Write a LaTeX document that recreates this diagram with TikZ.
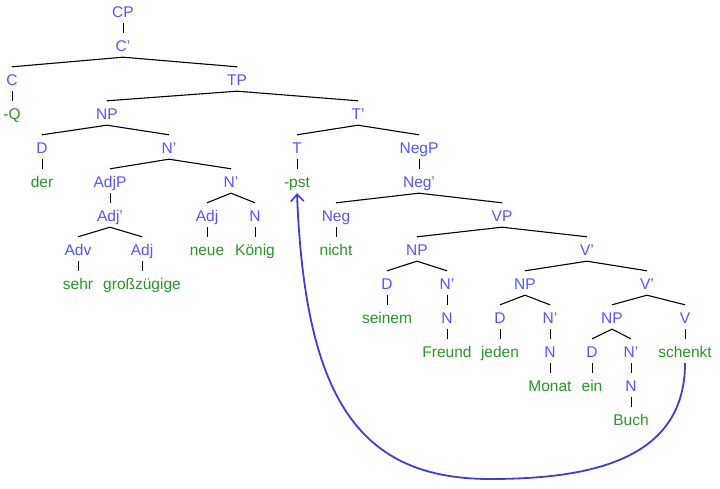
\documentclass[tikz,border=0pt]{standalone}
\usepackage{fontspec}
\setmainfont{Liberation Sans}
\usetikzlibrary{arrows.meta}
\definecolor{lblue}{RGB}{85,85,255}
\definecolor{lgreen}{RGB}{40,150,40}
\definecolor{arrblue}{RGB}{60,64,210}
\begin{document}
\begin{tikzpicture}[x=1pt,y=-1pt,
  cat/.style={inner sep=0pt, minimum height=24pt, text height=13pt, text depth=0pt, text=lblue, font=\fontsize{15.5}{18}\selectfont},
  word/.style={cat, text=lgreen},
  br/.style={draw=black, line width=1.1pt},
  un/.style={draw=black, line width=0.8pt},
  mv/.style={draw=arrblue, line width=1.8pt, -{Straight Barb[length=7pt,width=13pt,line width=1.6pt]}}]
\useasboundingbox (0,0) rectangle (720,489);
% level 0
\node[cat] (cp) at (123,11) {CP};
\node[cat] (cb) at (123,45) {C'};
\node[cat] (c) at (12,79) {C};
\node[cat] (tp) at (237,79) {TP};
\node[word] (q) at (12,113) {-Q};
\node[cat] (np1) at (107,113) {NP};
\node[cat] (tb) at (358,113) {T'};
\node[cat] (d1) at (42,147) {D};
\node[cat] (nb1) at (169,147) {N'};
\node[cat] (t) at (297,147) {T};
\node[cat] (negp) at (419,147) {NegP};
\node[word] (der) at (42,181) {der};
\node[cat] (adjp) at (110,181) {AdjP};
\node[cat] (nb2) at (231,181) {N'};
\node[word] (pst) at (297,181) {-pst};
\node[cat] (negb) at (419,181) {Neg'};
\node[cat] (adjb) at (110,215) {Adj'};
\node[cat] (adj1) at (207,215) {Adj};
\node[cat] (n1) at (255,215) {N};
\node[cat] (neg) at (336,215) {Neg};
\node[cat] (vp) at (502,215) {VP};
\node[cat] (adv) at (78,249) {Adv};
\node[cat] (adj2) at (142,249) {Adj};
\node[word] (neue) at (207,249) {neue};
\node[word] (konig) at (255,249) {König};
\node[word] (nicht) at (336,249) {nicht};
\node[cat] (np2) at (417,249) {NP};
\node[cat] (vb1) at (587,249) {V'};
\node[word] (sehr) at (78,283) {sehr};
\node[word] (gross) at (142,283) {großzügige};
\node[cat] (d2) at (387,283) {D};
\node[cat] (nb3) at (447,283) {N'};
\node[cat] (np3) at (525,283) {NP};
\node[cat] (vb2) at (647,283) {V'};
\node[word] (seinem) at (387,317) {seinem};
\node[cat] (n2) at (447,317) {N};
\node[cat] (d3) at (500,317) {D};
\node[cat] (nb4) at (550,317) {N'};
\node[cat] (np4) at (612,317) {NP};
\node[cat] (v) at (685,317) {V};
\node[word] (freund) at (447,351) {Freund};
\node[word] (jeden) at (500,351) {jeden};
\node[cat] (n3) at (550,351) {N};
\node[cat] (d4) at (592,351) {D};
\node[cat] (nb5) at (631,351) {N'};
\node[word] (schenkt) at (685,351) {schenkt};
\node[word] (monat) at (550,385) {Monat};
\node[word] (ein) at (592,385) {ein};
\node[cat] (n4) at (631,385) {N};
\node[word] (buch) at (631,419) {Buch};
% branching edges
\foreach \p/\c in {cb/c, cb/tp, tp/np1, tp/tb, np1/d1, np1/nb1, tb/t, tb/negp, nb1/adjp, nb1/nb2, nb2/adj1, nb2/n1, negb/neg, negb/vp, adjb/adv, adjb/adj2, vp/np2, vp/vb1, np2/d2, np2/nb3, vb1/np3, vb1/vb2, np3/d3, np3/nb4, vb2/np4, vb2/v, np4/d4, np4/nb5}
  \draw[br] (\p.south) -- (\c.north);
% unary edges
\foreach \p/\c in {cp/cb, c/q, d1/der, t/pst, negp/negb, adjp/adjb, adj1/neue, n1/konig, neg/nicht, adv/sehr, adj2/gross, d2/seinem, nb3/n2, n2/freund, d3/jeden, nb4/n3, n3/monat, d4/ein, nb5/n4, n4/buch, v/schenkt}
  \draw[un] (\p.south) -- (\c.north);
% movement arrow
\coordinate (bot) at (490,479);
\draw[mv] (schenkt.south) .. controls +(0,97) and +(100,0) .. (bot)
  .. controls +(-130,0) and +(8,207) .. (pst.south);
\end{tikzpicture}
\end{document}
